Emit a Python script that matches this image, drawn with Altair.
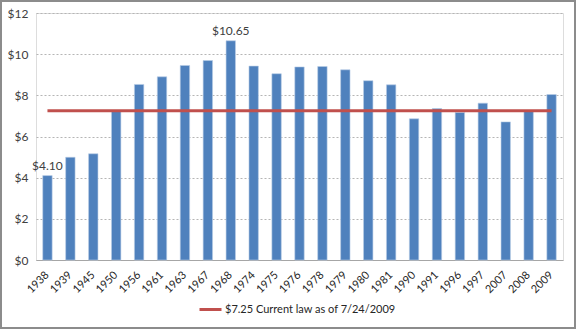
import altair as alt
import pandas as pd

years = ["1938", "1939", "1945", "1950", "1956", "1961", "1963", "1967", "1968",
         "1974", "1975", "1976", "1978", "1979", "1980", "1981", "1990", "1991",
         "1996", "1997", "2007", "2008", "2009"]
wages = [4.10, 4.99, 5.16, 7.24, 8.53, 8.90, 9.45, 9.69, 10.65,
         9.42, 9.05, 9.38, 9.40, 9.24, 8.71, 8.51, 6.86, 7.36,
         7.17, 7.62, 6.71, 7.22, 8.04]
labels = {"1938": "$4.10", "1968": "$10.65"}
current_law = 7.25
law_label = "$7.25 Current law as of 7/24/2009"

df = pd.DataFrame({
    "year": years,
    "wage": wages,
    "label": [labels.get(y, "") for y in years],
    "law": [current_law] * len(years),
    "series": [law_label] * len(years),
})

FONT = "Lato"
W, H = 527, 247

xscale = alt.Scale(paddingInner=0.59, paddingOuter=0.295)
yscale = alt.Scale(domain=[0, 12], nice=False)

base = alt.Chart(df)

border = alt.Chart(pd.DataFrame({"k": [0]})).mark_rect(
    fill=None, stroke="#8c8c8c", strokeWidth=2, clip=False
).encode(
    x=alt.value(-35), x2=alt.value(576 - 36 - 1),
    y=alt.value(-12), y2=alt.value(329 - 13 - 1),
)

bars = base.mark_bar(color="#4F81BD", stroke="#B9CDE5", strokeWidth=0.6).encode(
    x=alt.X("year:N", sort=years, scale=xscale, title=None,
            axis=alt.Axis(labelAngle=-45, labelAlign="right", labelBaseline="middle",
                          labelPadding=13, ticks=False, domainColor="#a6a6a6",
                          labelFont=FONT, labelFontSize=11, labelColor="#262626")),
    y=alt.Y("wage:Q", scale=yscale, title=None,
            axis=alt.Axis(values=[0, 2, 4, 6, 8, 10, 12], format="$.0f",
                          domain=False, ticks=False, labelPadding=8,
                          gridDash=[2, 2], gridColor="#b5b5b5", gridWidth=1,
                          labelFont=FONT, labelFontSize=12, labelColor="#404040")),
)

text = base.mark_text(dy=-10, font=FONT, fontSize=12, color="#404040").encode(
    x=alt.X("year:N", sort=years, scale=xscale),
    y=alt.Y("wage:Q", scale=yscale),
    text="label:N",
)

line = base.mark_line(strokeWidth=3).encode(
    x=alt.X("year:N", sort=years, scale=xscale),
    y=alt.Y("law:Q", scale=yscale),
    color=alt.Color("series:N",
                    scale=alt.Scale(domain=[law_label], range=["#C0504D"]),
                    legend=alt.Legend(title=None, orient="none", legendX=162, legendY=284,
                                      symbolType="stroke", symbolSize=484,
                                      symbolStrokeWidth=3, labelFont=FONT,
                                      labelFontSize=11, labelColor="#262626",
                                      labelOffset=2, labelLimit=0)),
)

chart = alt.layer(border, bars, line, text).properties(
    width=W, height=H,
    padding={"left": 36, "top": 13, "right": 13, "bottom": 69},
    autosize=alt.AutoSizeParams(type="none"),
).configure_view(stroke=None).configure(background="white")

chart.save("out.html", embed_options={"renderer": "svg", "actions": False})
